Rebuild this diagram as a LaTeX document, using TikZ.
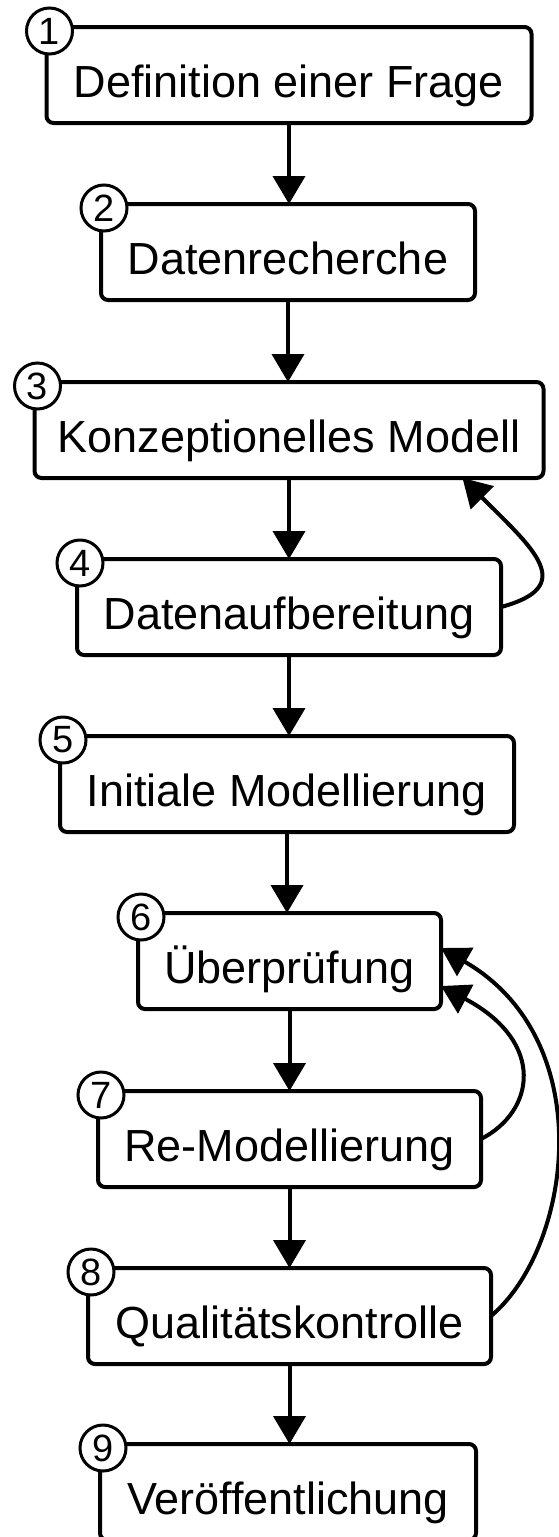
\documentclass[tikz,border=0pt]{standalone}
\usepackage{fontspec}
\setmainfont{Liberation Sans}
\usetikzlibrary{arrows.meta,calc}
\begin{document}
\begin{tikzpicture}[x=1pt,y=1pt,
  stepbox/.style={draw, line width=4pt, rounded corners=7pt, inner xsep=0pt, inner ysep=0pt,
    outer sep=0pt, text height=70pt, text depth=26pt, minimum height=96pt, anchor=north,
    font=\fontsize{45}{54}\selectfont},
  num/.style={circle, draw, fill=white, line width=3pt, minimum size=46pt, inner sep=0pt,
    outer sep=0pt, font=\fontsize{38}{40}\selectfont},
  flow/.style={line width=4pt, -{Triangle[length=28pt,width=32pt]}},
]
\useasboundingbox (0,0) rectangle (559,-1537);
\node[stepbox, minimum width=485pt] (b1) at (289,-27) {Definition einer Frage};
\node[stepbox, minimum width=374pt] (b2) at (288,-204) {Datenrecherche};
\node[stepbox, minimum width=509pt] (b3) at (289,-382) {Konzeptionelles Modell};
\node[stepbox, minimum width=424pt] (b4) at (289,-559) {Datenaufbereitung};
\node[stepbox, minimum width=454pt] (b5) at (287,-736) {Initiale Modellierung};
\node[stepbox, minimum width=303pt] (b6) at (289.5,-913) {Überprüfung};
\node[stepbox, minimum width=383pt] (b7) at (289.5,-1091) {Re-Modellierung};
\node[stepbox, minimum width=403pt] (b8) at (289.5,-1268) {Qualitätskontrolle};
\node[stepbox, minimum width=376pt] (b9) at (288,-1444) {Veröffentlichung};

\foreach \i in {1,...,9} \node[num] (n\i) at ([shift={(3pt,-4pt)}]b\i.north west) {\i};

\foreach \a/\b in {1/2,2/3,3/4,4/5,5/6,6/7,7/8,8/9}
  \draw[flow] (b\a.south) -- (b\a.south |- b\b.north);

\coordinate (t3) at ([xshift=-81pt]b3.south east);
\coordinate (t6a) at ([yshift=13pt]b6.east);
\coordinate (t6b) at ([yshift=-25pt]b6.east);
\draw[flow] (b4.east) .. controls +(15:80pt) and +(-45:100pt) .. (t3);
\draw[flow] (b7.east) .. controls +(27:60pt) and +(-28:120pt) .. (t6b);
\draw[flow] (b8.east) .. controls +(40:105pt) and +(-30:185pt) .. (t6a);
\end{tikzpicture}
\end{document}
